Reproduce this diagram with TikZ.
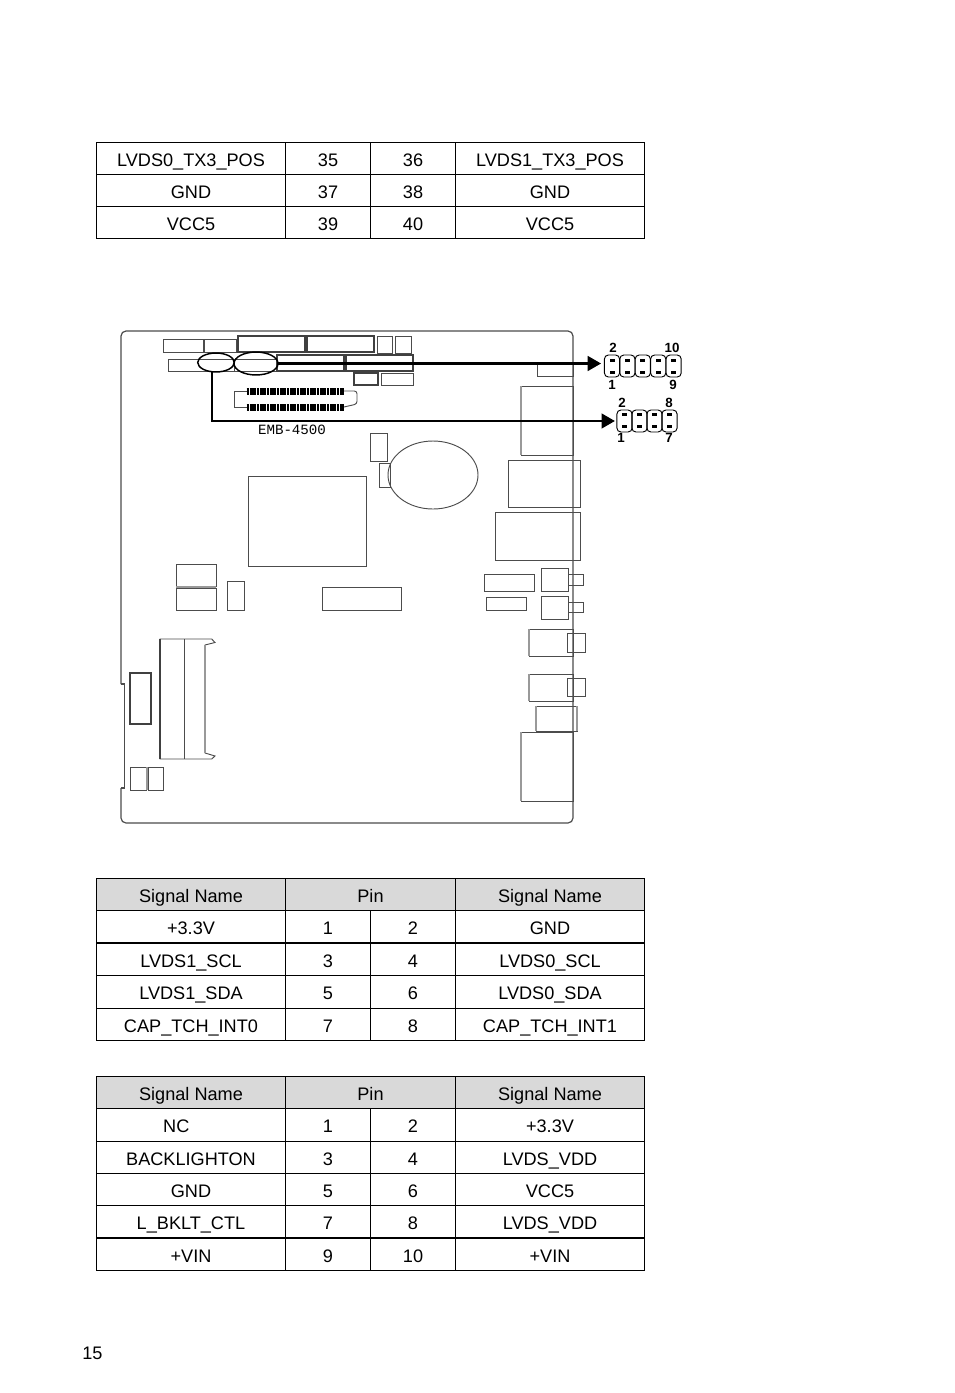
\documentclass[tikz,border=0pt]{standalone}
\usepackage{fontspec}
\setmainfont{Liberation Sans}
\newfontfamily\boardfont{Liberation Mono}
\usetikzlibrary{positioning}
\usetikzlibrary{arrows.meta}
\usetikzlibrary{shapes.geometric}
\begin{document}
\begin{tikzpicture}[
	x=0.75pt, y=-0.75pt,
	sigcell/.style={draw, line width=0.75pt, minimum width=141.75pt, minimum height=24.25pt, inner sep=0pt, outer sep=0pt, text height=11.7pt, text depth=0pt, font=\fontsize{13.6}{15}\selectfont},
	pincell/.style={sigcell, minimum width=63.75pt},
	pinhead/.style={sigcell, minimum width=127.5pt, fill=headgray},
	sighead/.style={sigcell, fill=headgray},
	part/.style={draw=black!70, line width=0.7pt},
	thickpart/.style={draw=black!75, line width=1.1pt},
	edgepart/.style={draw=black!40, line width=1.2pt},
	ring/.style={draw, ellipse, line width=1.1pt, inner sep=0pt, outer sep=0pt},
	pinbox/.style={draw, line width=0.7pt, rounded corners=3pt, minimum width=11.4pt, minimum height=16.5pt, inner sep=0pt, outer sep=0pt},
	pinno/.style={inner sep=0pt, font=\fontsize{10}{11}\selectfont\bfseries},
	arrow/.style={-{Triangle[length=10pt, width=11pt]}, line width=1.8pt}
	]
	\definecolor{headgray}{HTML}{D9D9D9}
	\useasboundingbox (0,0) rectangle (954,1393);

	% Table, top of page
	\foreach \y/\a/\p/\q/\b [count=\r] in {158.5/LVDS0\_TX3\_POS/35/36/LVDS1\_TX3\_POS, 190.5/GND/37/38/GND, 222.5/VCC5/39/40/VCC5} {
		\node[sigcell, minimum height=24pt] (top\r-a) at (191,\y) {\a};
		\node[pincell, minimum height=24pt] (top\r-p) at (328,\y) {\p};
		\node[pincell, minimum height=24pt] (top\r-q) at (413,\y) {\q};
		\node[sigcell, minimum height=24pt] (top\r-b) at (550,\y) {\b};
	}

	% Table, four rows
	\node[sighead, minimum height=24.3pt] (midh-a) at (191,894.7) {Signal Name};
	\node[pinhead, minimum height=24.3pt] (midh-p) at (370.5,894.7) {Pin};
	\node[sighead, minimum height=24.3pt] (midh-b) at (550,894.7) {Signal Name};
	\foreach \y/\a/\p/\q/\b [count=\r] in {927.1/+3.3V/1/2/GND, 959.5/LVDS1\_SCL/3/4/LVDS0\_SCL, 991.9/LVDS1\_SDA/5/6/LVDS0\_SDA, 1024.3/CAP\_TCH\_INT0/7/8/CAP\_TCH\_INT1} {
		\node[sigcell, minimum height=24.3pt] (mid\r-a) at (191,\y) {\a};
		\node[pincell, minimum height=24.3pt] (mid\r-p) at (328,\y) {\p};
		\node[pincell, minimum height=24.3pt] (mid\r-q) at (413,\y) {\q};
		\node[sigcell, minimum height=24.3pt] (mid\r-b) at (550,\y) {\b};
	}
	\draw[line width=1.4pt] (mid1-a.south west) -- (mid1-b.south east);

	% Table, five rows
	\node[sighead] (lowh-a) at (191,1092.67) {Signal Name};
	\node[pinhead] (lowh-p) at (370.5,1092.67) {Pin};
	\node[sighead] (lowh-b) at (550,1092.67) {Signal Name};
	\foreach \y/\a/\p/\q/\b [count=\r] in {1125/NC\kern22pt/1/2/+3.3V, 1157.33/BACKLIGHTON/3/4/LVDS\_VDD, 1189.67/GND/5/6/VCC5, 1222/L\_BKLT\_CTL/7/8/LVDS\_VDD, 1254.33/+VIN/9/10/+VIN} {
		\node[sigcell] (low\r-a) at (191,\y) {\a};
		\node[pincell] (low\r-p) at (328,\y) {\p};
		\node[pincell] (low\r-q) at (413,\y) {\q};
		\node[sigcell] (low\r-b) at (550,\y) {\b};
	}
	\draw[line width=1.4pt] (low4-a.south west) -- (low4-b.south east);

	% Board outline
	\draw[part, line width=0.9pt, rounded corners=3.75pt] (121,684) |- (573,331) -- (573,823) -- (121,823) -- (121,788);
	\draw[part, line width=0.9pt] (121,788) -- (124.7,788) -- (124.7,684) -- (121,684);

	% Board parts
	\foreach \xa/\ya/\xb/\yb in {163/339/203/352, 204/339/236/352, 377/336/392/353, 395/336/411/353, 168/359/234/371, 234/359/277/371, 381/373/413/385, 370/433/387/461, 379/463/390/487, 248/476/366/566, 537/363/573/376, 508/460/580/507, 495/512/580/560, 486/597/526/610, 541/568/568/591, 568/574/583/585, 541/596/568/619, 568/602/583/612, 529/629/573/656, 567/633/585/652, 529/674/573/701, 567/678/585/696, 536/706/577/731, 521/732/573/801, 521/386/573/455, 176/564/216/586, 176/588/216/610, 227/581/244/610, 322/587/401/610, 484/574/534/591, 130/767/146/790, 148/767/163/790}
		\draw[part] (\xa,\ya) rectangle (\xb,\yb);
	\foreach \xa/\ya/\xb/\yb in {238/336/305/352, 307/336/374/352, 277/355/344/371, 346/355/413/371, 354/373/378/385, 130/673/151/724}
		\draw[thickpart] (\xa,\ya) rectangle (\xb,\yb);
	\foreach \xa/\ya/\yb in {529/629/656, 529/674/701, 536/706/731, 577/706/731, 521/732/801, 521/386/455, 147/767/790}
		\draw[edgepart] (\xa,\ya) -- (\xa,\yb);
	\draw[edgepart] (176,587) -- (216,587);
	\draw[part] (433,475) ellipse[x radius=45, y radius=34];

	% Memory socket
	\draw[part] (211.7,639) -- (160,639) -- (160,759) -- (211.7,759) -- (215,756) -- (205,753) -- (205,645) -- (215,642.5) -- cycle;
	\draw[part] (184.5,639) -- (184.5,759);
	\draw[thickpart] (160,639) -- (160,759);
	\draw[edgepart] (205,645) -- (205,753);

	% Connector with two pin rows
	\draw[part] (246.7,391) -- (234.5,391) -- (234.5,407) -- (246.7,407);
	\draw[part, rounded corners=2pt] (344,391) -- (357,391) -- (357,404) -- (344,407);
	\draw[line width=5pt, dash pattern=on 2pt off 0.5pt] (246.7,391.8) -- (344,391.8);
	\draw[line width=5pt, dash pattern=on 2pt off 0.5pt] (246.7,407.7) -- (344,407.7);
	\node[inner sep=0pt] (model) at (292,430) {\boardfont\fontsize{10.6}{12}\selectfont EMB-4500};

	% Marked headers on the board
	\node[ring, minimum width=27.4pt, minimum height=14.2pt] (ringA) at (216,362.5) {};
	\node[ring, minimum width=33pt, minimum height=17.2pt] (ringB) at (256,363.5) {};
	\coordinate (ringfoot) at (212,372);

	% Pin header, 10 pins
	\foreach \i in {1,...,5} {
		\node[pinbox] (tenP\i) at (612+15.4*\i-15.4,366) {};
		\fill (612+15.4*\i-15.4-2.5,358.7) rectangle +(5,3);
		\fill (612+15.4*\i-15.4-2.5,370.7) rectangle +(5,3);
	}
	\node[pinno] (ten2) at (613,348) {2};
	\node[pinno] (ten10) at (672,348) {10};
	\node[pinno] (ten1) at (612,385) {1};
	\node[pinno] (ten9) at (673,385) {9};

	% Pin header, 8 pins
	\foreach \i in {1,...,4} {
		\node[pinbox] (eightP\i) at (624.5+15*\i-15,421) {};
		\fill (624.5+15*\i-15-2.5,413.2) rectangle +(5,3);
		\fill (624.5+15*\i-15-2.5,424.7) rectangle +(5,3);
	}
	\node[pinno] (eight2) at (622,403) {2};
	\node[pinno] (eight8) at (669,403) {8};
	\node[pinno] (eight1) at (621,438) {1};
	\node[pinno] (eight7) at (669,438) {7};

	% Connections
	\draw[arrow, shorten >=2.5pt] (ringB.east) -- (ringB.east -| tenP1.west);
	\draw[arrow, shorten >=1.5pt] (ringfoot) |- (eightP1.west);

	% Page number
	\node[inner sep=0pt, font=\fontsize{13.6}{15}\selectfont] (pageno) at (92.5,1353) {15};
\end{tikzpicture}
\end{document}
